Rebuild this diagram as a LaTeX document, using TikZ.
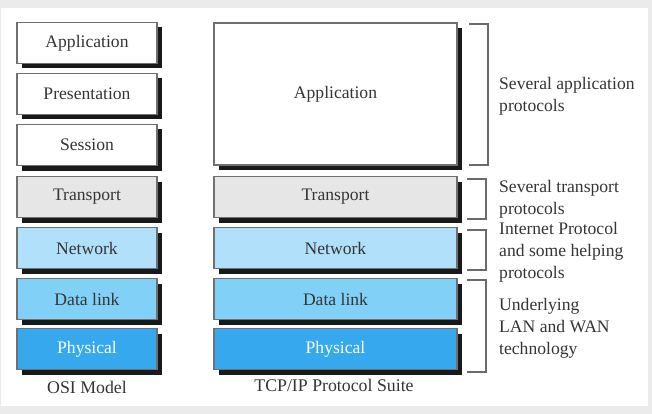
\documentclass[tikz,border=0pt]{standalone}
\usepackage{fontspec}
\setmainfont{Liberation Serif}
\definecolor{bgray}{HTML}{EBEBEB}
\definecolor{txt}{HTML}{353535}
\definecolor{edge}{HTML}{707070}
\definecolor{trfill}{HTML}{E6E6E6}
\definecolor{nwfill}{HTML}{B0E0FA}
\definecolor{dlfill}{HTML}{80D0F7}
\definecolor{phfill}{HTML}{36A9EE}
\definecolor{brk}{HTML}{6A6A6A}
\tikzset{
  layer/.style={draw=edge, line width=1.3pt, text=txt, font=\fontsize{17.6}{20}\selectfont,
    inner sep=0pt, outer sep=0pt,
    drop shadow={shadow xshift=5pt, shadow yshift=-5pt, fill=black, opacity=0.9}},
  osi/.style={layer, minimum width=140pt, minimum height=41pt},
  tcp/.style={layer, minimum width=243pt},
  bracket/.style={draw=brk, line width=1.6pt},
  note/.style={text=txt, font=\fontsize{17.6}{22}\selectfont, align=left, anchor=west, inner sep=0pt},
  caption/.style={text=txt, font=\fontsize{17.8}{20}\selectfont, inner sep=0pt}
}
\usetikzlibrary{shadows}
\begin{document}
\begin{tikzpicture}[x=1pt,y=-1pt]
\fill[bgray] (0,0) rectangle (652,414);
\fill[white] (1,8) rectangle (648,406);
\useasboundingbox (0,0) rectangle (652,414);
% OSI
\node[osi, fill=white] (oapp) at (87,43) {Application};
\node[osi, fill=white] (opre) at (87,94) {Presentation};
\node[osi, fill=white] (oses) at (87,145) {Session};
\node[osi, fill=trfill] (otr) at (87,197) {Transport};
\node[osi, fill=nwfill] (onw) at (87,248) {Network};
\node[osi, fill=dlfill] (odl) at (87,299) {Data link};
\node[osi, fill=phfill, text=white] (oph) at (87,349) {Physical};
\node[caption] (ocap) at (87,387) {OSI Model};
% TCP/IP
\node[tcp, fill=white, minimum height=142pt] (tapp) at (335.5,94) {Application};
\node[tcp, fill=trfill, minimum height=41pt] (ttr) at (335.5,197) {Transport};
\node[tcp, fill=nwfill, minimum height=41pt] (tnw) at (335.5,248) {Network};
\node[tcp, fill=dlfill, minimum height=41pt] (tdl) at (335.5,299) {Data link};
\node[tcp, fill=phfill, text=white, minimum height=41pt] (tph) at (335.5,349) {Physical};
\node[caption] (tcap) at (334,385) {TCP/IP Protocol Suite};
% brackets
\coordinate (b1a) at (469,24); \coordinate (b1b) at (488,24);
\coordinate (b1c) at (488,165); \coordinate (b1d) at (469,165);
\draw[bracket] (b1a) -- (b1b) -- (b1c) -- (b1d);
\coordinate (b2a) at (467,179); \coordinate (b2b) at (486,179);
\coordinate (b2c) at (486,219); \coordinate (b2d) at (467,219);
\draw[bracket] (b2a) -- (b2b) -- (b2c) -- (b2d);
\coordinate (b3a) at (467,230); \coordinate (b3b) at (486,230);
\coordinate (b3c) at (486,270); \coordinate (b3d) at (467,270);
\draw[bracket] (b3a) -- (b3b) -- (b3c) -- (b3d);
\coordinate (b4a) at (467,280); \coordinate (b4b) at (486,280);
\coordinate (b4c) at (486,372); \coordinate (b4d) at (467,372);
\draw[bracket] (b4a) -- (b4b) -- (b4c) -- (b4d);
% notes
\node[note] (n1) at (499,96) {Several application\\protocols};
\node[note] (n2) at (499,199) {Several transport\\protocols};
\node[note] (n3) at (499,252) {Internet Protocol\\and some helping\\protocols};
\node[note] (n4) at (499,328) {Underlying\\LAN and WAN\\technology};
\end{tikzpicture}
\end{document}
